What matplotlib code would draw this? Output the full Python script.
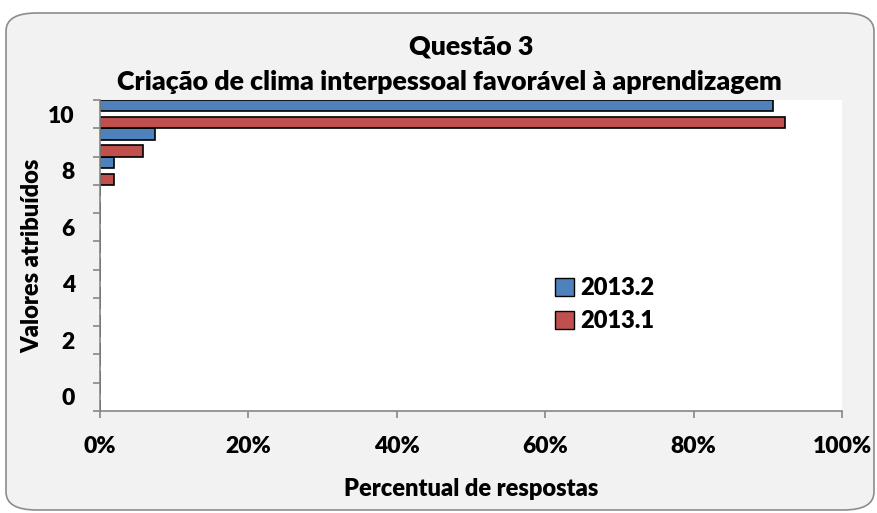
import matplotlib
matplotlib.use('Agg')
import matplotlib.pyplot as plt
from matplotlib.patches import FancyBboxPatch, Patch
from matplotlib.ticker import FixedLocator, PercentFormatter

categories = list(range(11))
s2013_2 = [0, 0, 0, 0, 0, 0, 0, 0, 1.9, 7.4, 90.7]
s2013_1 = [0, 0, 0, 0, 0, 0, 0, 0, 1.9, 5.8, 92.3]
tick_labels = ['0', '2', '4', '6', '8', '10']

blue = '#4F81BD'
red = '#C0504D'
plt.rcParams['font.family'] = ['Lato', 'DejaVu Sans']
W = 'heavy'

fig = plt.figure(figsize=(8.78, 5.13), dpi=100)
fig.patch.set_facecolor('white')
frame = FancyBboxPatch((6 / 878, 3 / 513), 868 / 878, 497 / 513,
                       boxstyle='round,pad=0,rounding_size=0.035',
                       transform=fig.transFigure, facecolor='#F2F2F2',
                       edgecolor='#8C8C8C', linewidth=1.2, zorder=-10)
fig.patches.append(frame)

ax = fig.add_axes([100 / 878, 1 - 411 / 513, 742 / 878, 311 / 513])
ax.set_facecolor('white')

h = 0.4
ax.barh([c + 0.3 for c in categories], s2013_2, height=h, color=blue,
        edgecolor='black', linewidth=1.2, label='2013.2')
ax.barh([c - 0.3 for c in categories], s2013_1, height=h, color=red,
        edgecolor='black', linewidth=1.2, label='2013.1')

ax.set_xlim(0, 100)
ax.set_ylim(-0.5, 10.5)
ax.set_xticks([0, 20, 40, 60, 80, 100])
ax.xaxis.set_major_formatter(PercentFormatter(decimals=0))
ax.set_yticks([c - 0.5 for c in categories] + [10.5])
ax.set_yticklabels([])
ax.yaxis.set_minor_locator(FixedLocator([0, 2, 4, 6, 8, 10]))
ax.set_yticklabels(tick_labels, minor=True)
ax.tick_params(axis='y', which='minor', length=0, pad=18, labelsize=16.5)
ax.tick_params(axis='y', which='major', length=5, color='#868686', width=1.2)
ax.tick_params(axis='x', length=5, color='#868686', width=1.2, labelsize=16.5, pad=13)
for lbl in ax.get_xticklabels() + ax.get_yticklabels(minor=True):
    lbl.set_fontweight(W)

for s in ['top', 'right']:
    ax.spines[s].set_visible(False)
for s in ['left', 'bottom']:
    ax.spines[s].set_color('#868686')
    ax.spines[s].set_linewidth(1.2)

ax.set_xlabel('Percentual de respostas', fontsize=17, fontweight=W, labelpad=15)
ax.set_ylabel('Valores atribuídos', fontsize=17, fontweight=W, labelpad=4)

fig.text(471 / 878, 1 - 47 / 513, 'Questão 3', ha='center', va='center',
         fontsize=19.3, fontweight=W)
fig.text(449 / 878, 1 - 82 / 513,
         'Criação de clima interpessoal favorável à aprendizagem',
         ha='center', va='center', fontsize=19.3, fontweight=W)

handles = [Patch(facecolor=blue, edgecolor='black', label='2013.2'),
           Patch(facecolor=red, edgecolor='black', label='2013.1')]
ax.legend(handles=handles, loc='upper left', bbox_to_anchor=(0.6, 0.46),
          frameon=False, prop={'size': 17, 'weight': W},
          handlelength=0.8, handleheight=0.8, handletextpad=0.3,
          labelspacing=0.45, borderaxespad=0)

fig.savefig('out.png', dpi=100, facecolor=fig.get_facecolor())
